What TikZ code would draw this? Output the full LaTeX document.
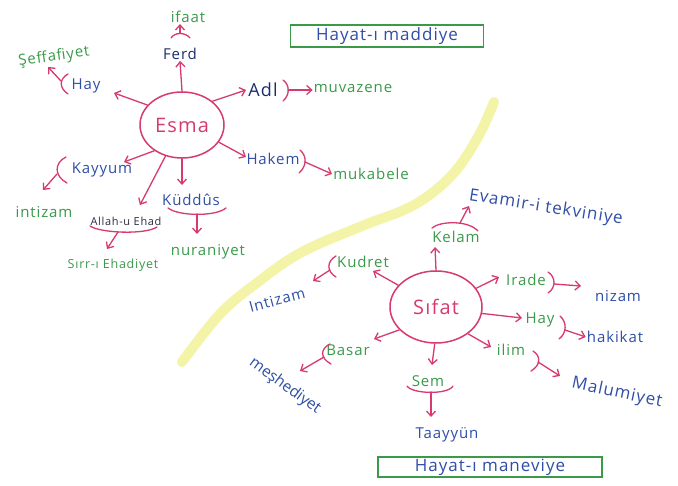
\documentclass[tikz,border=0pt]{standalone}
\usepackage{fontspec}
\setmainfont{Open Sans}
\newfontfamily\hand[LetterSpace=6]{Open Sans}
\newfontfamily\handplain{Open Sans}
\usetikzlibrary{arrows.meta,shapes.geometric}
\definecolor{pk}{HTML}{D63A6E}
\definecolor{nv}{HTML}{1C2C6E}
\definecolor{bl}{HTML}{2F4FA6}
\definecolor{gr}{HTML}{3A9A4A}
\definecolor{yl}{HTML}{F4F4A8}
\definecolor{dk}{HTML}{2B2B45}
\tikzset{
  pen/.style={draw=pk, line width=1.3pt, line cap=round, line join=round},
  arr/.style={pen, -{Straight Barb[length=5pt,width=9pt]}},
  lbl/.style={inner sep=1pt, font=\hand\fontsize{15}{15}\selectfont},
  gtxt/.style={lbl, text=gr},
  btxt/.style={lbl, text=bl},
  ntxt/.style={lbl, text=nv},
  hub/.style={ellipse, pen, line width=1.5pt, text=pk, font=\hand\fontsize{20}{20}\selectfont, inner sep=0pt},
  titlebox/.style={draw=gr, line width=1.2pt, text=bl, font=\hand\fontsize{17}{17}\selectfont, inner sep=1pt},
}
\begin{document}
\begin{tikzpicture}[x=1pt,y=-1pt]
\useasboundingbox (0,0) rectangle (678,486);
\fill[white] (0,0) rectangle (678,486);
% yellow divider
\draw[yl, line width=10pt, line cap=round] plot[smooth, tension=0.6] coordinates {(494,102) (478,137) (452,175) (414,205) (362,226) (302,252) (258,282) (220,314) (182,362)};

% ---------- Esma ----------
\node[hub, minimum width=84pt, minimum height=66pt] (esma) at (182,125) {Esma};
\node[gtxt] (ifaat) at (188,17) {ifaat};
\node[ntxt] (ferd) at (180,54) {Ferd};
\node[btxt] (hay1) at (86,86) {Hay};
\node[gtxt, rotate=8] (seff) at (54,57) {Şeffafiyet};
\node[ntxt, font=\hand\fontsize{18}{18}\selectfont] (adl) at (263,90) {Adl};
\node[gtxt] (muv) at (353,88) {muvazene};
\node[btxt] (hakem) at (273,159) {Hakem};
\node[gtxt] (muk) at (371,174) {mukabele};
\node[btxt] (kayyum) at (102,170) {Kayyum};
\node[gtxt] (intz1) at (44,212) {intizam};
\node[lbl, text=dk, font=\hand\fontsize{11}{11}\selectfont] (allah) at (126,221) {Allah-u Ehad};
\node[gtxt, font=\hand\fontsize{12.5}{12.5}\selectfont] (sirr) at (113,265) {Sırr-ı Ehadiyet};
\node[btxt] (kuddus) at (191,200) {Küddûs};
\node[gtxt] (nur) at (208,252) {nuraniyet};
\node[titlebox, minimum width=193pt, minimum height=22pt] (maddi) at (387,36) {Hayat-ı maddiye};

% tips and bracket points (Esma)
\coordinate (t-hay1) at (114,93);
\coordinate (t-adl) at (246,90);
\coordinate (t-hakem) at (246,157);
\coordinate (t-kay) at (124,162);
\coordinate (t-allah) at (140,205);
\coordinate (t-kud) at (182,185);
\coordinate (b-ifaat) at (180,33);
\coordinate (b-seff) at (61,81);
\coordinate (t-seff) at (48,67);
\coordinate (b-adl) at (288,90);
\coordinate (b-hak) at (305,162);
\coordinate (b-kay) at (57,174);
\coordinate (t-kay2) at (43,190);
\coordinate (b-all) at (118,232);
\coordinate (t-all) at (107,249);
\coordinate (b-kud) at (197,214);
\coordinate (t-kud2) at (197,234);

\draw[arr] (esma.90) -- (ferd.south);
\draw[arr] (esma.150) -- (t-hay1);
\draw[arr] (esma.38) -- (t-adl);
\draw[arr] (esma.-25) -- (t-hakem);
\draw[arr] (esma.-137) -- (t-kay);
\draw[arr] (esma.-118) -- (t-allah);
\draw[arr] (esma.-90) -- (t-kud);

\draw[pen] (171,38) .. controls (175,32) and (185,32) .. (190,38);
\draw[arr] (b-ifaat) -- (b-ifaat |- ifaat.south);
\draw[pen] (68,74) .. controls (59,79) and (59,88) .. (68,94);
\draw[arr] (b-seff) -- (t-seff);
\draw[pen] (283,80) .. controls (290,85) and (290,95) .. (283,101);
\draw[arr] (b-adl) -- (b-adl -| muv.west);
\draw[pen] (300,150) .. controls (307,156) and (307,166) .. (299,173);
\draw[arr] (b-hak) -- (muk.west);
\draw[pen] (66,157) .. controls (54,163) and (54,176) .. (67,183);
\draw[arr] (b-kay) -- (t-kay2);
\draw[pen] (90,226) .. controls (100,233) and (145,235) .. (157,227);
\draw[arr] (b-all) -- (t-all);
\draw[pen] (168,208) .. controls (178,216) and (215,217) .. (226,208);
\draw[arr] (b-kud) -- (t-kud2);

% ---------- Sifat ----------
\node[hub, minimum width=92pt, minimum height=72pt] (sifat) at (436,307) {Sıfat};
\node[gtxt] (kelam) at (456,237) {Kelam};
\node[btxt, rotate=-9, font=\hand\fontsize{17}{17}\selectfont] (evamir) at (546,208) {Evamir-i tekviniye};
\node[gtxt] (kudret) at (363,262) {Kudret};
\node[btxt, rotate=15] (intz2) at (277,300) {Intizam};
\node[gtxt] (irade) at (526,280) {Irade};
\node[btxt] (nizam) at (618,296) {nizam};
\node[gtxt] (hay2) at (540,320) {Hay};
\node[btxt] (hakikat) at (615,337) {hakikat};
\node[gtxt] (ilim) at (511,350) {ilim};
\node[btxt, rotate=-12, font=\hand\fontsize{17}{17}\selectfont] (malum) at (617,393) {Malumiyet};
\node[gtxt] (basar) at (348,350) {Basar};
\node[btxt, rotate=-36, font=\handplain\fontsize{15.5}{15.5}\selectfont] (mesh) at (285,386) {meşhediyet};
\node[gtxt] (sem) at (428,381) {Sem};
\node[btxt] (taay) at (447,435) {Taayyün};
\node[titlebox, minimum width=224pt, minimum height=20pt] (manevi) at (490,467) {Hayat-ı maneviye};

\coordinate (t-kelam) at (435,247);
\coordinate (t-kudret) at (373,271);
\coordinate (t-irade) at (499,277);
\coordinate (t-hay2) at (522,318);
\coordinate (t-ilim) at (491,347);
\coordinate (t-sem) at (432,365);
\coordinate (t-basar) at (374,339);
\coordinate (b-kel) at (460,223);
\coordinate (t-kel2) at (469,206);
\coordinate (b-kudret) at (330,270);
\coordinate (t-kudret2) at (313,281);
\coordinate (b-ira) at (554,284);
\coordinate (t-ira2) at (581,286);
\coordinate (b-hay2) at (565,330);
\coordinate (b-ilim) at (538,362);
\coordinate (t-ilim2) at (560,376);
\coordinate (b-bas) at (324,357);
\coordinate (t-bas2) at (300,371);
\coordinate (b-sem) at (431,392);
\coordinate (t-sem2) at (431,417);

\draw[arr] (sifat.90) -- (t-kelam);
\draw[arr] (sifat.150) -- (t-kudret);
\draw[arr] (sifat.25) -- (t-irade);
\draw[arr] (sifat.-8) -- (t-hay2);
\draw[arr] (sifat.-40) -- (t-ilim);
\draw[arr] (sifat.-92) -- (t-sem);
\draw[arr] (sifat.-148) -- (t-basar);

\draw[pen] (432,228) .. controls (440,221) and (468,220) .. (478,231);
\draw[arr] (b-kel) -- (t-kel2);
\draw[pen] (336,256) .. controls (327,261) and (326,271) .. (336,277);
\draw[arr] (b-kudret) -- (t-kudret2);
\draw[pen] (548,272) .. controls (556,277) and (556,288) .. (548,293);
\draw[arr] (b-ira) -- (t-ira2);
\draw[pen] (560,316) .. controls (567,322) and (567,333) .. (559,339);
\draw[arr] (b-hay2) -- (hakikat.west);
\draw[pen] (533,351) .. controls (541,356) and (541,365) .. (531,371);
\draw[arr] (b-ilim) -- (t-ilim2);
\draw[pen] (330,344) .. controls (320,349) and (320,358) .. (331,364);
\draw[arr] (b-bas) -- (t-bas2);
\draw[pen] (407,386) .. controls (412,394) and (448,395) .. (453,386);
\draw[arr] (b-sem) -- (t-sem2);
\end{tikzpicture}
\end{document}
